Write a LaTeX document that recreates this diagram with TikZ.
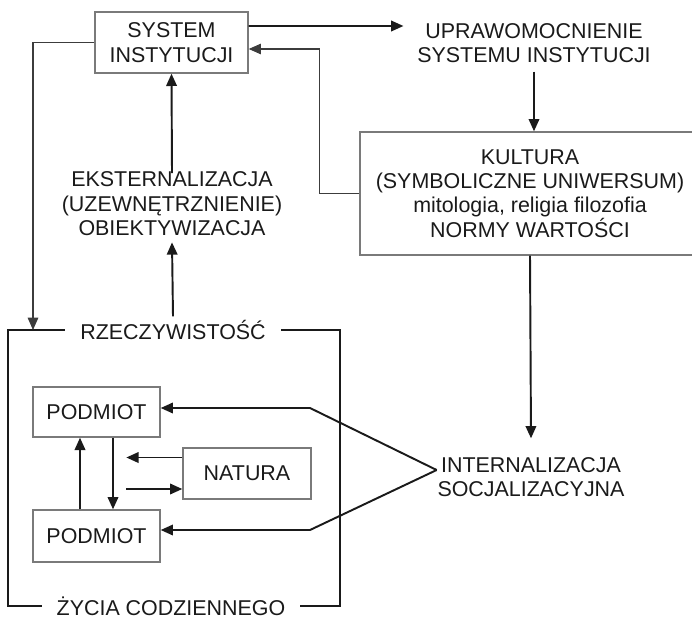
\documentclass[tikz,border=0pt]{standalone}
\usepackage{fontspec}
\setmainfont{Liberation Sans}
\usetikzlibrary{arrows.meta}
\definecolor{ink}{HTML}{1A1A1A}
\definecolor{edge}{HTML}{7A7A7A}
\newcommand{\diagfont}{\fontsize{12.2}{13.9}\selectfont}
\tikzset{
  box/.style={draw=edge, line width=0.8pt, align=center, text=ink, font=\diagfont, inner sep=0pt},
  lbl/.style={align=center, text=ink, font=\diagfont, inner sep=2pt},
  arr/.style={draw=ink, line width=1.1pt, -{Triangle[length=7pt,width=6pt]}},
  thinarr/.style={draw=ink!85, line width=0.6pt, -{Triangle[length=7pt,width=6pt]}},
  frameline/.style={draw=ink, line width=1.1pt}
}
\begin{document}
\begin{tikzpicture}[x=0.02cm, y=-0.02cm]
        % Draw page area
        \useasboundingbox (0,0) rectangle (692,618);
        % Draw top row
        \node[box, minimum width=3.06cm, minimum height=1.22cm] (sys) at (171.5,42.5) {SYSTEM\\INSTYTUCJI};
        \node[lbl] (upr) at (534,43) {UPRAWOMOCNIENIE\\SYSTEMU INSTYTUCJI};
        \node[box, minimum width=6.8cm, minimum height=2.46cm] (kul) at (530,193.5) {KULTURA\\(SYMBOLICZNE UNIWERSUM)\\mitologia, religia filozofia\\NORMY WARTOŚCI};
        \node[lbl] (ekst) at (172,204) {EKSTERNALIZACJA\\(UZEWNĘTRZNIENIE)\\OBIEKTYWIZACJA};
        \node[lbl] (int) at (531,477) {INTERNALIZACJA\\SOCJALIZACYJNA};
        % Draw everyday reality frame
        \coordinate (rzTL) at (8,330);
        \coordinate (rzBR) at (340,606);
        \draw[frameline] (rzTL) rectangle (rzBR);
        \node[lbl, fill=white, inner xsep=0.3cm] (rz) at (173,330) {RZECZYWISTOŚĆ};
        \node[lbl, fill=white, inner xsep=0.3cm, inner ysep=0pt] (zc) at (171,606) {ŻYCIA CODZIENNEGO};
        % Draw subjects and nature
        \node[box, minimum width=2.54cm, minimum height=1cm] (pod1) at (96.5,412) {PODMIOT};
        \node[box, minimum width=2.54cm, minimum height=1.04cm] (pod2) at (96.5,536) {PODMIOT};
        \node[box, minimum width=2.56cm, minimum height=1.02cm] (nat) at (247,473.5) {NATURA};
        % Draw arrows
        \draw[arr] ([yshift=0.33cm]sys.east) -- ([yshift=0.34cm,xshift=-0.2cm]upr.west);
        \draw[thinarr] (kul.west) -- ++(-40,0) |- ([yshift=-0.13cm]sys.east);
        \draw[arr] ([yshift=-0.1cm]upr.south) -- (upr.south |- kul.north);
        \draw[arr] (kul.south) -- ([yshift=0.3cm]int.north);
        \draw[arr] ([yshift=-0.1cm]ekst.north) -- (sys.south);
        \draw[arr] (rz.north) -- ([yshift=-0.05cm]ekst.south);
        \draw[thinarr] (sys.west) -| ([xshift=0.5cm]rzTL);
        \draw[arr] ([xshift=-0.33cm]pod2.north) -- ([xshift=-0.33cm]pod1.south);
        \draw[arr] ([xshift=0.33cm]pod1.south) -- ([xshift=0.33cm]pod2.north);
        \draw[arr] ([yshift=0.32cm]nat.west) -- ++(-56,0);
        \draw[arr] ([yshift=-0.31cm,xshift=-1.12cm]nat.west) -- ([yshift=-0.31cm]nat.west);
        % Draw internalization arrows
        \coordinate (apex) at ([yshift=0.14cm,xshift=0.06cm]int.west);
        \draw[arr] (apex) -- (310,408) -- ([yshift=0.08cm]pod1.east);
        \draw[arr] (apex) -- (310,530) -- ([yshift=0.12cm]pod2.east);
    \end{tikzpicture}
\end{document}
